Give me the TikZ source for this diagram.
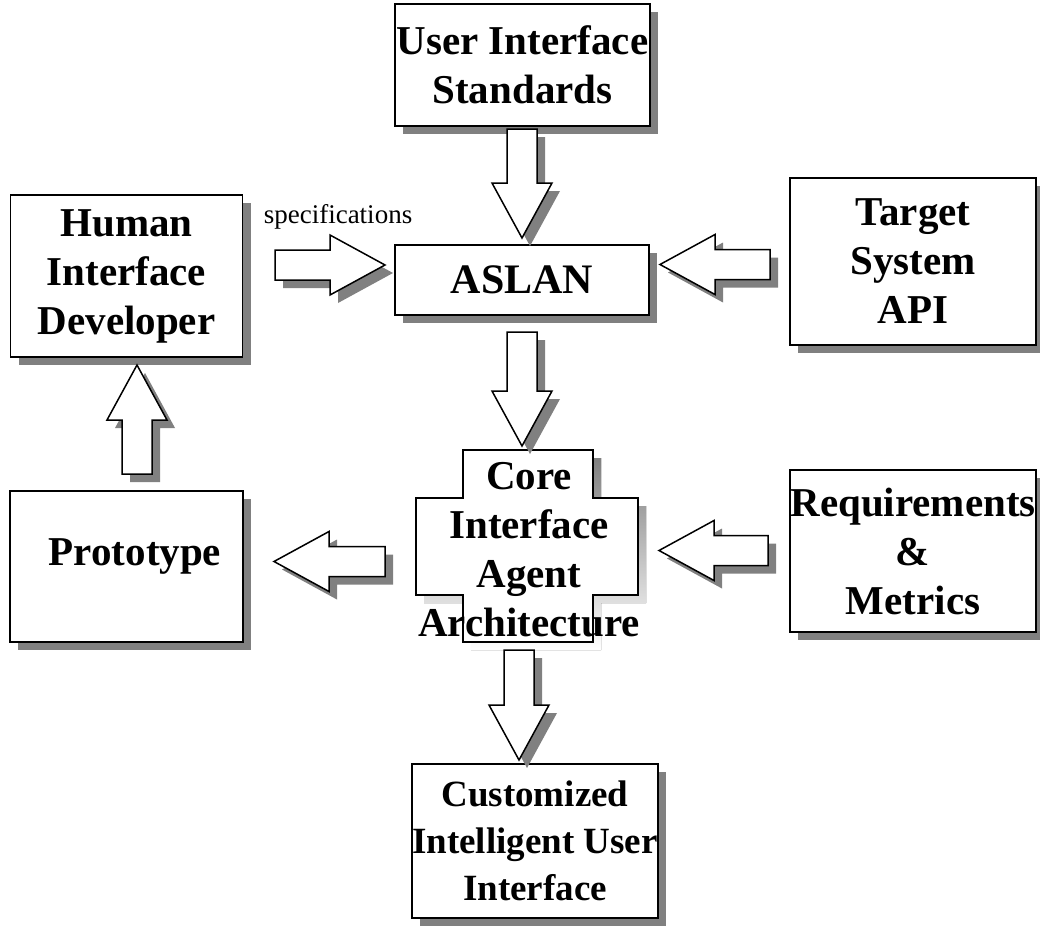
\documentclass[tikz,border=0pt]{standalone}
\usepackage{fontspec}
\setmainfont{Liberation Serif}
\usetikzlibrary{calc,shadows}
\definecolor{shade}{gray}{0.5}
\tikzset{
  boxshadow/.style={drop shadow={shadow xshift=8pt, shadow yshift=-8pt, fill=shade, opacity=1}},
  box/.style={draw=black, line width=1.8pt, fill=white, align=center, inner sep=0pt,
    font=\bfseries\fontsize{41}{49}\selectfont, boxshadow},
  bigtext/.style={align=center, inner sep=0pt, font=\bfseries\fontsize{41}{49}\selectfont},
  arrowline/.style={draw=black, line width=1.5pt, fill=white, line join=miter},
  arrowshade/.style={fill=shade, draw=none, transform canvas={shift={(8pt,-8pt)}}},
  smalltext/.style={inner sep=0pt, font=\fontsize{27}{31}\selectfont}
}
\newcommand\blockarrow[2]{%
  \coordinate (tmpB) at ($(#2)!55pt!(#1)$);
  \fill[arrowshade] ($(#1)!15pt!90:(#2)$) -- ($(tmpB)!15pt!90:(#2)$) -- ($(tmpB)!30pt!90:(#2)$) -- (#2)
     -- ($(tmpB)!30pt!-90:(#2)$) -- ($(tmpB)!15pt!-90:(#2)$) -- ($(#1)!15pt!-90:(#2)$) -- cycle;
  \draw[arrowline] ($(#1)!15pt!90:(#2)$) -- ($(tmpB)!15pt!90:(#2)$) -- ($(tmpB)!30pt!90:(#2)$) -- (#2)
     -- ($(tmpB)!30pt!-90:(#2)$) -- ($(tmpB)!15pt!-90:(#2)$) -- ($(#1)!15pt!-90:(#2)$) -- cycle;}
\begin{document}
\begin{tikzpicture}[x=1pt,y=-1pt]
\useasboundingbox (0,0) rectangle (1040,931);

% boxes
\node[box, minimum width=255pt, minimum height=122pt] (uis) at (522.5,65) {User Interface\\Standards};
\node[box, minimum width=254pt, minimum height=70pt, font=\bfseries\fontsize{42}{50}\selectfont] (aslan) at (522,280) {ASLAN};
\node[box, minimum width=232pt, minimum height=162pt] (hid) at (126.5,276) {Human\\Interface\\Developer};
\node[box, minimum width=246pt, minimum height=167pt] (target) at (913,261.5) {Target\\System\\API};
\node[box, minimum width=246pt, minimum height=162pt] (req) at (913,551) {Requirements\\\&\\Metrics};
\node[box, minimum width=233pt, minimum height=151pt] (proto) at (126.5,566.5) {};
\node[bigtext] (protot) at (135,556) {Prototype};
\node[box, minimum width=244pt, minimum height=154pt, font=\bfseries\fontsize{37}{47}\selectfont] (ciui) at (535,841) {Customized\\Intelligent User\\Interface};

% core cross
\fill[shade, transform canvas={shift={(8pt,-8pt)}}] (463,450) -- (593,450) -- (593,498) -- (638,498) -- (638,595) -- (593,595) -- (593,642) -- (463,642) -- (463,595) -- (416,595) -- (416,498) -- (463,498) -- cycle;
\draw[line width=1.8pt, fill=white] (463,450) -- (593,450) -- (593,498) -- (638,498) -- (638,595) -- (593,595) -- (593,642) -- (463,642) -- (463,595) -- (416,595) -- (416,498) -- (463,498) -- cycle;
\node[bigtext] (core) at (529,550) {Core\\Interface\\Agent\\Architecture};

\node[smalltext] (spec) at (338,217) {specifications};

% arrow end points
\coordinate (a1s) at (522,129);   \coordinate (a1e) at (522,238);
\coordinate (a2s) at (275,265);   \coordinate (a2e) at (385,265);
\coordinate (a3s) at (770,264.5); \coordinate (a3e) at (660,264.5);
\coordinate (a4s) at (522,332);   \coordinate (a4e) at (522,446);
\coordinate (a5s) at (137,474);   \coordinate (a5e) at (137,365);
\coordinate (a6s) at (385,561.5); \coordinate (a6e) at (274,561.5);
\coordinate (a7s) at (768,550.5); \coordinate (a7e) at (659,550.5);
\coordinate (a8s) at (519,650);   \coordinate (a8e) at (519,760);

\blockarrow{a1s}{a1e}
\blockarrow{a2s}{a2e}
\blockarrow{a3s}{a3e}
\blockarrow{a4s}{a4e}
\blockarrow{a5s}{a5e}
\blockarrow{a6s}{a6e}
\blockarrow{a7s}{a7e}
\blockarrow{a8s}{a8e}
\end{tikzpicture}
\end{document}
